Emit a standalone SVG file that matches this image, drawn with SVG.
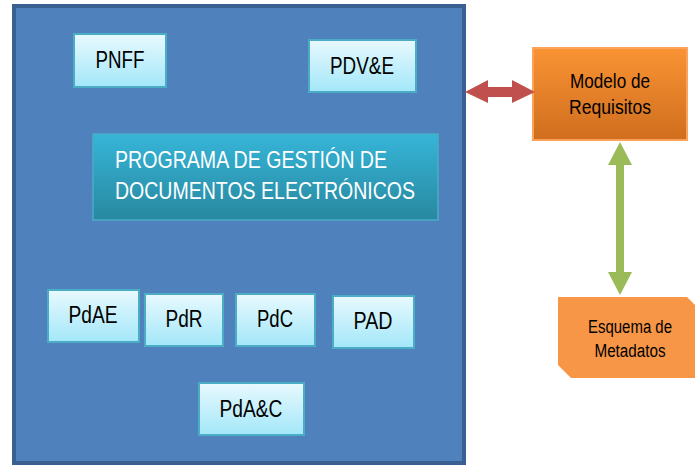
<svg xmlns="http://www.w3.org/2000/svg" width="695" height="465" viewBox="0 0 695 465">
<defs>
<linearGradient id="gBox" x1="0" y1="0" x2="0" y2="1"><stop offset="0" stop-color="#E8F9FE"/><stop offset="1" stop-color="#A3E7F9"/></linearGradient>
<linearGradient id="gProg" x1="0" y1="0" x2="0" y2="1"><stop offset="0" stop-color="#36B5D8"/><stop offset="1" stop-color="#2888A0"/></linearGradient>
<linearGradient id="gOr" x1="0" y1="0" x2="0" y2="1"><stop offset="0" stop-color="#F99334"/><stop offset="1" stop-color="#D06E1E"/></linearGradient>
<style>
.box{fill:url(#gBox);stroke:#4BACC6;stroke-width:2}
text{font-family:"Liberation Sans",Arial,sans-serif}
.lbl{font-size:23px;fill:#000;text-anchor:middle}
.prog{font-size:24px;fill:#fff}
.sm{fill:#000;text-anchor:middle}
</style>
</defs>
<g id="programa-contenedor">
<rect x="14" y="6" width="450" height="457" fill="#4F81BD" stroke="#3A6092" stroke-width="4"/>
</g>
<g id="pnff"><rect class="box" x="74" y="34" width="92" height="53"/><text class="lbl" x="120" y="68" textLength="49" lengthAdjust="spacingAndGlyphs">PNFF</text></g>
<g id="pdve"><rect class="box" x="309" y="40" width="107" height="52"/><text class="lbl" x="362" y="74" textLength="64" lengthAdjust="spacingAndGlyphs">PDV&amp;E</text></g>
<g id="programa"><rect x="93" y="134" width="345" height="86" fill="url(#gProg)" stroke="#4BACC6" stroke-width="1.5"/>
<text class="prog" x="115" y="168" textLength="272" lengthAdjust="spacingAndGlyphs">PROGRAMA DE GESTIÓN DE</text>
<text class="prog" x="115" y="199" textLength="300" lengthAdjust="spacingAndGlyphs">DOCUMENTOS ELECTRÓNICOS</text></g>
<g id="pdae"><rect class="box" x="48" y="290" width="91" height="52"/><text class="lbl" x="93" y="323" textLength="49" lengthAdjust="spacingAndGlyphs">PdAE</text></g>
<g id="pdr"><rect class="box" x="145" y="294" width="78" height="52"/><text class="lbl" x="184" y="327" textLength="37" lengthAdjust="spacingAndGlyphs">PdR</text></g>
<g id="pdc"><rect class="box" x="236" y="294" width="79" height="52"/><text class="lbl" x="275" y="327" textLength="36" lengthAdjust="spacingAndGlyphs">PdC</text></g>
<g id="pad"><rect class="box" x="333" y="296" width="81" height="52"/><text class="lbl" x="373" y="329" textLength="39" lengthAdjust="spacingAndGlyphs">PAD</text></g>
<g id="pdac"><rect class="box" x="199" y="383" width="105" height="52"/><text class="lbl" x="251" y="417" textLength="63" lengthAdjust="spacingAndGlyphs">PdA&amp;C</text></g>
<g id="modelo"><rect x="533" y="48" width="154" height="92" fill="url(#gOr)" stroke="#FBA35A" stroke-width="2"/>
<text class="sm" font-size="21" x="610" y="88" textLength="80" lengthAdjust="spacingAndGlyphs">Modelo de</text>
<text class="sm" font-size="21" x="610" y="114" textLength="82" lengthAdjust="spacingAndGlyphs">Requisitos</text></g>
<g id="esquema"><polygon points="558,297 687,297 695,305 695,378 571,378 558,365" fill="#F79646"/>
<text class="sm" font-size="18" x="630" y="333" textLength="84" lengthAdjust="spacingAndGlyphs">Esquema de</text>
<text class="sm" font-size="18" x="630" y="357" textLength="71" lengthAdjust="spacingAndGlyphs">Metadatos</text></g>
<g id="connectors">
<polygon points="465,92 488,80 488,87 512,87 512,80 535,92 512,103 512,97 488,97 488,103" fill="#C0504D"/>
<polygon points="620,142 632,165 624,165 624,272 632,272 620,295 608,272 616,272 616,165 608,165" fill="#9BBB59"/>
</g>
</svg>
